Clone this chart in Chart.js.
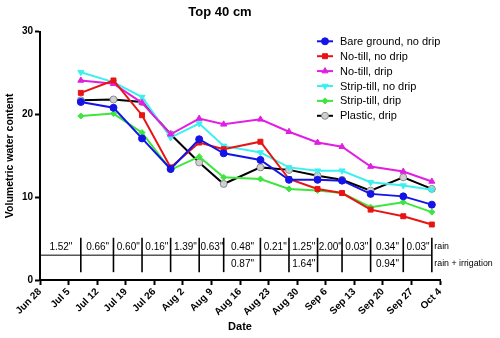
<!DOCTYPE html>
<html>
<head>
<meta charset="utf-8">
<script src="https://cdn.jsdelivr.net/npm/chart.js@4/dist/chart.umd.min.js"></script>
<style>
  html, body { margin: 0; padding: 0; background: #fff; }
  #wrap { width: 500px; height: 338px; }
</style>
</head>
<body>
<div id="wrap"><canvas id="c" width="500" height="338"></canvas></div>
<script>
// ---- Data (days counted from Jun 28) ----
const sampleDays = [10, 18, 25, 32, 39, 45, 54, 61, 68, 74, 81, 89, 96];
const tickDays = [0, 7, 14, 21, 28, 35, 42, 49, 56, 63, 70, 77, 84, 91, 98];
const tickLabels = ['Jun 28', 'Jul 5', 'Jul 12', 'Jul 19', 'Jul 26', 'Aug 2', 'Aug 9', 'Aug 16', 'Aug 23', 'Aug 30', 'Sep 6', 'Sep 13', 'Sep 20', 'Sep 27', 'Oct 4'];

const bareGroundNoDrip = [21.5, 20.8, 17.1, 13.4, 17.0, 15.3, 14.5, 12.1, 12.1, 12.0, 10.4, 10.1, 9.1];
const noTillNoDrip     = [22.6, 24.1, 19.9, 13.6, 16.6, 15.8, 16.7, 12.2, 11.0, 10.5, 8.5, 7.7, 6.7];
const noTillDrip       = [24.1, 23.7, 21.4, 17.6, 19.5, 18.8, 19.4, 17.9, 16.6, 16.1, 13.7, 13.1, 11.9];
const stripTillNoDrip  = [25.1, 23.9, 22.1, 17.2, 18.9, 16.2, 15.4, 13.6, 13.2, 13.2, 11.8, 11.4, 10.9];
const stripTillDrip    = [19.8, 20.1, 17.8, 13.3, 14.9, 12.4, 12.2, 11.0, 10.8, 10.5, 8.8, 9.4, 8.2];
const plasticDrip      = [21.7, 21.8, 21.5, 17.6, 14.2, 11.6, 13.6, 13.3, 12.6, 12.1, 10.8, 12.4, 11.0];

const seriesNames = ['Bare ground, no drip', 'No-till, no drip', 'No-till, drip', 'Strip-till, no drip', 'Strip-till, drip', 'Plastic, drip'];

// Rain (inches) for each interval ending at the sample day (first interval starts at Jun 28)
const rainInches       = [1.52, 0.66, 0.60, 0.16, 1.39, 0.63, 0.48, 0.21, 1.25, 2.00, 0.03, 0.34, 0.03];
const rainIrrigInches  = [null, null, null, null, null, null, 0.87, null, 1.64, null, null, 0.94, null];
const rowLabels = ['rain', 'rain + irrigation'];

const FONT = "'Liberation Sans', Arial, Helvetica, sans-serif";

function pts(arr) { return arr.map((v, i) => ({ x: sampleDays[i], y: v })); }

const styles = [
  { color: '#1414e6', point: 'circle', radius: 3.5, fill: '#1414e6', rot: 0 },
  { color: '#e81414', point: 'rect', radius: 3.5, fill: '#e81414', rot: 0 },
  { color: '#e21ee2', point: 'triangle', radius: 3.5, fill: '#e21ee2', rot: 0 },
  { color: '#3cf0f0', point: 'triangle', radius: 3.5, fill: '#3cf0f0', rot: 180 },
  { color: '#3ce63c', point: 'rectRot', radius: 3, fill: '#3ce63c', rot: 0 },
  { color: '#000000', point: 'circle', radius: 3.5, fill: '#d0d0d0', rot: 0, border: '#8a8a8a' }
];
const seriesData = [bareGroundNoDrip, noTillNoDrip, noTillDrip, stripTillNoDrip, stripTillDrip, plasticDrip];

const datasets = seriesData.map((d, i) => ({
  label: seriesNames[i],
  data: pts(d),
  borderColor: styles[i].color,
  backgroundColor: styles[i].fill,
  borderWidth: 2,
  pointStyle: styles[i].point,
  pointRadius: styles[i].radius,
  pointRotation: styles[i].rot,
  pointBackgroundColor: styles[i].fill,
  pointBorderColor: styles[i].border || styles[i].color,
  pointBorderWidth: 1,
  tension: 0
}));

const tablePlugin = {
  id: 'rainTable',
  afterDatasetsDraw(chart) {
    const ctx = chart.ctx;
    const xs = chart.scales.x, ys = chart.scales.y;
    const yTop = ys.getPixelForValue(5.1), yMid = ys.getPixelForValue(3.0), yBot = ys.getPixelForValue(0.95);
    const yRain = ys.getPixelForValue(4.0), yIrr = ys.getPixelForValue(1.95);
    const x0 = xs.getPixelForValue(0) - 1;
    const xEnd = xs.getPixelForValue(sampleDays[sampleDays.length - 1]);
    ctx.save();
    ctx.strokeStyle = '#000';
    ctx.lineWidth = 1;
    ctx.beginPath(); ctx.moveTo(x0, yMid); ctx.lineTo(xEnd, yMid); ctx.stroke();
    ctx.lineWidth = 1.6;
    sampleDays.forEach(d => {
      const x = xs.getPixelForValue(d);
      ctx.beginPath(); ctx.moveTo(x, yTop); ctx.lineTo(x, yBot); ctx.stroke();
    });
    ctx.fillStyle = '#000';
    ctx.font = '10px ' + FONT;
    ctx.textAlign = 'center';
    ctx.textBaseline = 'middle';
    sampleDays.forEach((d, i) => {
      const left = xs.getPixelForValue(i === 0 ? 0 : sampleDays[i - 1]);
      const right = xs.getPixelForValue(d);
      const cx = (left + right) / 2 + 0.5;
      if (rainInches[i] != null) ctx.fillText(rainInches[i].toFixed(2) + '"', cx, yRain);
      if (rainIrrigInches[i] != null) ctx.fillText(rainIrrigInches[i].toFixed(2) + '"', cx, yIrr);
    });
    ctx.textAlign = 'left';
    ctx.font = '8.8px ' + FONT;
    ctx.fillText(rowLabels[0], xEnd + 2.5, yRain);
    ctx.fillText(rowLabels[1], xEnd + 2.5, yIrr);
    ctx.restore();
  }
};

const legendPlugin = {
  id: 'customLegend',
  afterDraw(chart) {
    const ctx = chart.ctx;
    ctx.save();
    chart.data.datasets.forEach((ds, i) => {
      const y = 41.3 + i * 14.9;
      ctx.strokeStyle = ds.borderColor;
      ctx.lineWidth = 2;
      ctx.beginPath(); ctx.moveTo(317, y); ctx.lineTo(333, y); ctx.stroke();
      ctx.fillStyle = ds.pointBackgroundColor;
      ctx.strokeStyle = ds.pointBorderColor;
      ctx.lineWidth = 1;
      Chart.helpers.drawPoint(ctx, { pointStyle: ds.pointStyle, radius: ds.pointRadius, rotation: ds.pointRotation, borderWidth: 1 }, 325, y);
      ctx.fillStyle = '#000';
      ctx.font = '11px ' + FONT;
      ctx.textAlign = 'left';
      ctx.textBaseline = 'middle';
      ctx.fillText(ds.label, 340, y + 0.5);
    });
    ctx.restore();
  }
};

new Chart(document.getElementById('c'), {
  type: 'line',
  data: { datasets },
  options: {
    responsive: false,
    animation: false,
    devicePixelRatio: 1,
    layout: { padding: { left: 0, right: 60, top: 0, bottom: 0 } },
    plugins: {
      legend: { display: false },
      tooltip: { enabled: false },
      title: {
        display: true,
        text: 'Top 40 cm',
        color: '#000',
        font: { family: FONT, size: 13, weight: 'bold' },
        padding: { top: 5, bottom: 11 }
      }
    },
    scales: {
      x: {
        type: 'linear',
        min: 0, max: 98,
        afterBuildTicks(s) { s.ticks = tickDays.map(v => ({ value: v })); },
        afterFit(s) { s.height = 58; },
        ticks: {
          autoSkip: false,
          maxRotation: 45, minRotation: 45,
          color: '#000',
          padding: 1,
          font: { family: FONT, size: 10, weight: 'bold' },
          callback: (v) => tickLabels[tickDays.indexOf(v)]
        },
        grid: { display: true, drawOnChartArea: false, drawTicks: true, tickLength: 5, tickColor: '#000', tickWidth: 2 },
        border: { display: true, color: '#000', width: 2 },
        title: { display: true, text: 'Date', color: '#000', font: { family: FONT, size: 11, weight: 'bold' }, padding: { top: 0, bottom: 4 } }
      },
      y: {
        min: 0, max: 30,
        afterFit(s) { s.width = 40; },
        ticks: { stepSize: 10, color: '#000', padding: 2, font: { family: FONT, size: 10, weight: 'bold' } },
        grid: { display: true, drawOnChartArea: false, drawTicks: true, tickLength: 5, tickColor: '#000', tickWidth: 2 },
        border: { display: true, color: '#000', width: 2 },
        title: { display: true, text: 'Volumetric water content', color: '#000', font: { family: FONT, size: 10.5, weight: 'bold' }, padding: { top: 4, bottom: 0 } }
      }
    }
  },
  plugins: [tablePlugin, legendPlugin]
});
</script>
</body>
</html>
